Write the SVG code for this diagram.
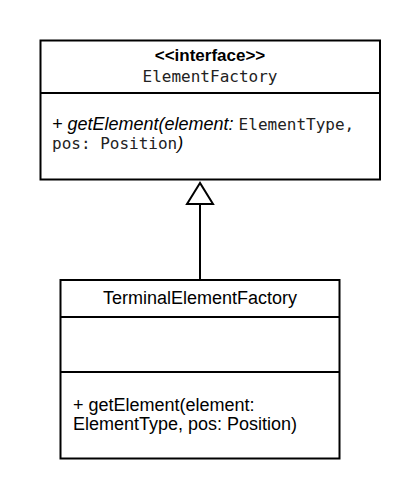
<svg xmlns="http://www.w3.org/2000/svg" width="420" height="500" viewBox="0 0 420 500">
  <style>
    .box { fill: #ffffff; stroke: #000000; stroke-width: 2; }
    .div { stroke: #000000; stroke-width: 2; fill: none; }
    .sans { font-family: "Liberation Sans", Arial, sans-serif; font-size: 18px; fill: #000000; }
    .mono { font-family: "DejaVu Sans Mono", "Liberation Mono", monospace; font-size: 16px; fill: #222222; }
    .bold { font-weight: bold; font-size: 17px; }
    .ital { font-style: italic; }
    .conn { stroke: #000000; stroke-width: 2; fill: none; }
  </style>
  <rect x="0" y="0" width="420" height="500" fill="#ffffff"/>
  <g id="connectors">
    <line class="conn" x1="200" y1="204" x2="200" y2="280"/>
    <polygon class="conn" fill="#ffffff" points="200,183 187,204 213,204"/>
  </g>
  <g id="ElementFactory">
    <rect class="box" x="40.5" y="40.5" width="339.5" height="139"/>
    <line class="div" x1="40.5" y1="93" x2="380" y2="93"/>
    <text class="sans bold" x="210" y="61" text-anchor="middle">&lt;&lt;interface&gt;&gt;</text>
    <text class="mono" x="210" y="82" text-anchor="middle">ElementFactory</text>
    <text x="52" y="130"><tspan class="sans ital">+ getElement(element: </tspan><tspan class="mono">ElementType,</tspan></text>
    <text x="52" y="149"><tspan class="mono">pos: Position</tspan><tspan class="sans ital">)</tspan></text>
  </g>
  <g id="TerminalElementFactory">
    <rect class="box" x="60.5" y="280" width="279" height="178.5"/>
    <line class="div" x1="60.5" y1="317" x2="339.5" y2="317"/>
    <line class="div" x1="60.5" y1="372" x2="339.5" y2="372"/>
    <text class="sans" x="200" y="304" text-anchor="middle">TerminalElementFactory</text>
    <text class="sans" x="73" y="411">+ getElement(element:</text>
    <text class="sans" x="73" y="430">ElementType, pos: Position)</text>
  </g>
</svg>
